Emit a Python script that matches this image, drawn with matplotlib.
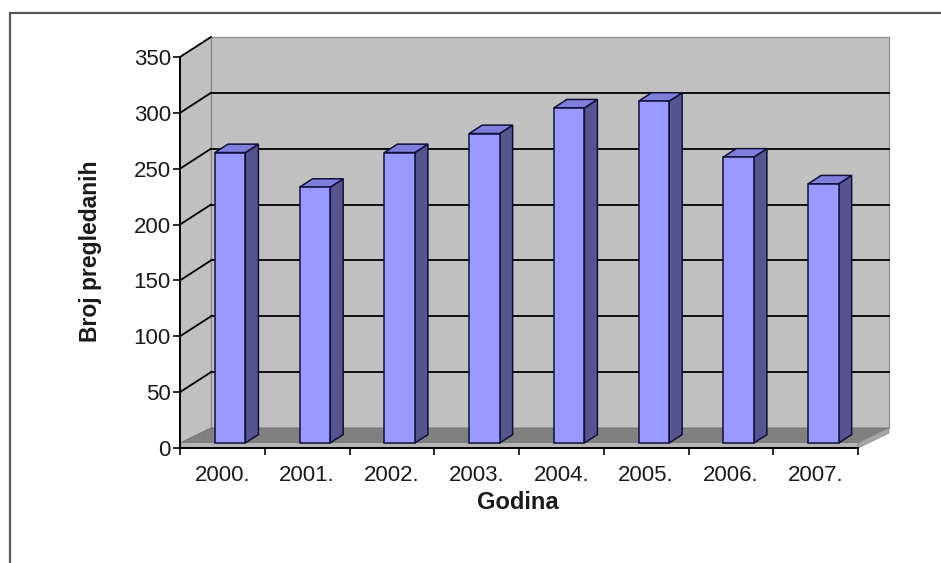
import matplotlib.pyplot as plt
from matplotlib.patches import Polygon, Rectangle

years = ['2000.', '2001.', '2002.', '2003.', '2004.', '2005.', '2006.', '2007.']
counts = [260, 229, 260, 277, 300, 306, 256, 232]
y_ticks = [0, 50, 100, 150, 200, 250, 300, 350]

plt.rcParams['font.family'] = ['Liberation Sans', 'DejaVu Sans']

W, H = 941, 563
fig = plt.figure(figsize=(W / 100, H / 100), dpi=100)

# front plane of the 3d box, in pixels
x0, x1 = 180, 858
yb, yt = 448, 57
n = len(years)
ymax = y_ticks[-1]
ax = fig.add_axes([x0 / W, 1 - yb / H, (x1 - x0) / W, (yb - yt) / H])
ax.set_xlim(0, n)
ax.set_ylim(0, ymax)
ax.patch.set_visible(False)

# depth of the box in data units (about 31 px right, 20 px up)
px_y = (yb - yt) / ymax
dx = 31 / ((x1 - x0) / n)
dy = 20 / px_y
lip = 5 / px_y  # floor thickness

wall = '#c0c0c0'
kw = dict(clip_on=False, joinstyle='miter')

# walls and floor
ax.add_patch(Polygon([(0, 0), (dx, dy), (dx, ymax + dy), (0, ymax)],
                     fc=wall, ec='#a8a8a8', lw=0.8, zorder=0.5, **kw))
ax.add_patch(Polygon([(dx, dy), (n + dx, dy), (n + dx, ymax + dy), (dx, ymax + dy)],
                     fc=wall, ec='#8c8c8c', lw=0.9, zorder=0.5, **kw))
ax.add_patch(Polygon([(0, lip), (n, lip), (n + dx, dy), (dx, dy)],
                     fc='#808080', ec='#707070', lw=0.6, zorder=0.6, **kw))
ax.add_patch(Polygon([(0, 0), (n, 0), (n, lip), (0, lip)],
                     fc='#b4b4b4', ec='none', zorder=0.6, **kw))
ax.add_patch(Polygon([(n, 0), (n + dx, dy - lip), (n + dx, dy), (n, lip)],
                     fc='#a6a6a6', ec='#8c8c8c', lw=0.6, zorder=0.6, **kw))

# gridlines: slanted on the side wall, flat on the back wall
for v in y_ticks[1:]:
    ax.plot([0, dx], [v, v + dy], color='black', lw=1.3, clip_on=False, zorder=0.8)
    if v < ymax:
        ax.plot([dx, n + dx], [v + dy, v + dy], color='black', lw=1.3,
                clip_on=False, zorder=0.8)

# bars
bw = 0.36
d0, d1 = 0.25, 0.67
for i, v in enumerate(counts):
    fx = i + 0.5 - bw / 2 + d0 * dx
    by = d0 * dy
    ddx, ddy = (d1 - d0) * dx, (d1 - d0) * dy
    front = [(fx, by), (fx + bw, by), (fx + bw, by + v), (fx, by + v)]
    side = [(fx + bw, by), (fx + bw + ddx, by + ddy), (fx + bw + ddx, by + v + ddy), (fx + bw, by + v)]
    top = [(fx, by + v), (fx + bw, by + v), (fx + bw + ddx, by + v + ddy), (fx + ddx, by + v + ddy)]
    ax.add_patch(Polygon(side, fc='#55558f', ec='#10103a', lw=1.1, zorder=1.5, **kw))
    ax.add_patch(Polygon(top, fc='#7f7fdc', ec='#10103a', lw=1.1, zorder=1.5, **kw))
    ax.add_patch(Polygon(front, fc='#9999ff', ec='#10103a', lw=1.1, zorder=1.6, **kw))

# axes
for s in ['top', 'right']:
    ax.spines[s].set_visible(False)
for s in ['left', 'bottom']:
    ax.spines[s].set_linewidth(1.4)
    ax.spines[s].set_zorder(3)

ax.set_yticks(y_ticks)
ax.set_xticks(range(n + 1))
ax.set_xticklabels([])
ax.set_xticks([i + 0.5 for i in range(n)], minor=True)
ax.set_xticklabels(years, minor=True)
ax.tick_params(axis='both', which='major', direction='out', length=5, width=1.3,
               labelsize=16, colors='#1a1a1a')
ax.tick_params(axis='y', pad=1.5)
ax.tick_params(axis='x', which='minor', length=0, pad=12, labelsize=16,
               labelcolor='#1a1a1a')

ax.text(-0.1327, 0.504, 'Broj pregledanih', transform=ax.transAxes, rotation=90,
        ha='center', va='center', fontsize=16.5, fontweight='bold', color='#1a1a1a')
ax.text(0.4985, -0.14, 'Godina', transform=ax.transAxes,
        ha='center', va='center', fontsize=17, fontweight='bold', color='#1a1a1a')

# outer chart frame, runs off the right and bottom edge
fig.patches.append(Rectangle((10 / W, -0.2), 1.2, 1.2 - 13 / H, transform=fig.transFigure,
                             fill=False, ec='#5a5a5a', lw=1.6))

fig.savefig('out.png', dpi=100)
